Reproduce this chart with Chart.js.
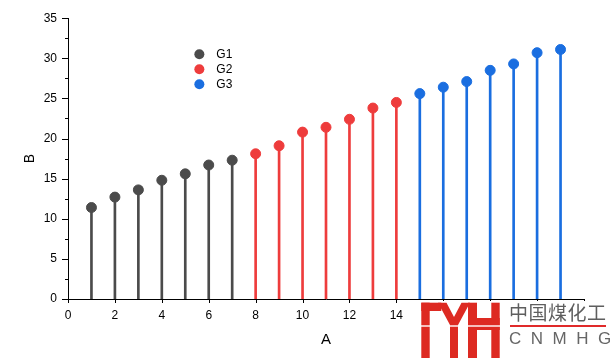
<!DOCTYPE html>
<html>
<head>
<meta charset="utf-8">
<script src="https://cdn.jsdelivr.net/npm/chart.js@4/dist/chart.umd.min.js"></script>
<style>
html, body { margin: 0; padding: 0; background: #fff; }
#wrap { position: relative; width: 610px; height: 358px; }
#logo { position: absolute; left: 420px; top: 301px; width: 190px; height: 57px; background: #fff; }
#logo .cn { position: absolute; left: 89px; top: 0px; font-family: "Noto Sans CJK SC", sans-serif; font-size: 19px; line-height: 22px; color: #5e5e5e; letter-spacing: 0.5px; white-space: nowrap; }
#logo .bar { position: absolute; left: 90px; top: 24px; width: 96px; height: 2px; background: #e02a2a; }
#logo .en { position: absolute; left: 89px; top: 28px; font-family: "Liberation Sans", Arial, sans-serif; font-size: 17px; line-height: 20px; color: #666; letter-spacing: 9.5px; white-space: nowrap; }
#logo svg { position: absolute; left: -2px; top: -5px; }
</style>
</head>
<body>
<div id="wrap">
<canvas id="myChart" width="610" height="358"></canvas>
<div id="logo">
<svg width="90" height="62">
<g fill="#dd2a22">
<rect x="3.3" y="6.7" width="8.4" height="56"/>
<rect x="3.3" y="6.7" width="20" height="8.3"/>
<polygon points="20,6.7 28.5,6.7 36,21 43.5,6.7 52,6.7 40,29 40,62 32,62 32,29"/>
<rect x="50" y="6.7" width="9" height="56"/>
<rect x="73.3" y="6.7" width="8.4" height="56"/>
<rect x="50" y="22" width="31.7" height="12"/>
</g>
<rect fill="#fff" x="0" y="29.3" width="90" height="1.4"/>
</svg>
<div class="cn">中国煤化工</div>
<div class="bar"></div>
<div class="en">CNMHG</div>
</div>
</div>
<script>
var g1X = [1, 2, 3, 4, 5, 6, 7];
var g1Y = [11.4, 12.7, 13.6, 14.8, 15.6, 16.7, 17.3];
var g2X = [8, 9, 10, 11, 12, 13, 14];
var g2Y = [18.1, 19.1, 20.8, 21.4, 22.4, 23.8, 24.5];
var g3X = [15, 16, 17, 18, 19, 20, 21];
var g3Y = [25.6, 26.4, 27.1, 28.5, 29.3, 30.7, 31.1];
var groupNames = ["G1", "G2", "G3"];
var groupColors = ["#4b4b4b", "#ee3c3c", "#1a6ee0"];

function pts(xs, ys) {
    return xs.map(function (x, i) { return { x: x, y: ys[i] }; });
}
var groups = [pts(g1X, g1Y), pts(g2X, g2Y), pts(g3X, g3Y)];

var datasets = [];
groups.forEach(function (g, i) {
    datasets.push({
        type: "bar",
        label: groupNames[i] + " stem",
        data: g,
        backgroundColor: groupColors[i],
        barThickness: 2,
        grouped: false,
        order: 2
    });
});
groups.forEach(function (g, i) {
    datasets.push({
        type: "scatter",
        label: groupNames[i],
        data: g,
        backgroundColor: groupColors[i],
        borderColor: groupColors[i],
        pointRadius: 5,
        pointHoverRadius: 5,
        order: 1
    });
});

// tick marks and legend drawn through the scales
var extras = {
    id: "extras",
    afterDraw: function (chart) {
        var c = chart.ctx;
        var xs = chart.scales.x, ys = chart.scales.y;
        c.save();
        c.strokeStyle = "#000";
        c.lineWidth = 1;
        for (var v = 0; v <= 35; v += 2.5) {
            var py = Math.round(ys.getPixelForValue(v)) + 0.5;
            var len = (v % 5 === 0) ? 6 : 3;
            c.beginPath();
            c.moveTo(xs.left - len, py);
            c.lineTo(xs.left, py);
            c.stroke();
        }
        for (var u = 0; u <= 22; u += 2) {
            var px = Math.round(xs.getPixelForValue(u)) + 0.5;
            c.beginPath();
            c.moveTo(px, ys.bottom);
            c.lineTo(px, ys.bottom + 4);
            c.stroke();
        }
        // legend
        var lx = xs.getPixelForValue(5.6);
        var ly = ys.getPixelForValue(30.5);
        c.font = "12px 'Liberation Sans', Arial, sans-serif";
        c.textBaseline = "middle";
        c.textAlign = "left";
        chart.data.datasets.forEach(function (ds) {
            if (ds.type !== "scatter") return;
            c.fillStyle = ds.backgroundColor;
            c.beginPath();
            c.arc(lx, ly, 5, 0, Math.PI * 2);
            c.fill();
            c.fillStyle = "#000";
            c.fillText(ds.label, lx + 17, ly + 0.5);
            ly += 15;
        });
        c.restore();
    }
};

var ctx = document.getElementById("myChart").getContext("2d");
var chart = new Chart(ctx, {
    type: "bar",
    data: { datasets: datasets },
    options: {
        responsive: false,
        animation: false,
        layout: { padding: { top: 16, right: 26, left: 0, bottom: 0 } },
        plugins: { legend: { display: false }, tooltip: { enabled: false } },
        scales: {
            x: {
                type: "linear",
                min: 0,
                max: 22,
                offset: false,
                afterFit: function (s) { s.height = 59; },
                grid: { display: false, drawTicks: false },
                border: { display: true, color: "#000", width: 1 },
                ticks: {
                    stepSize: 2,
                    padding: 9,
                    color: "#000",
                    maxRotation: 0,
                    font: { family: "'Liberation Sans', Arial, sans-serif", size: 12 }
                },
                title: {
                    display: true,
                    text: "A",
                    color: "#000",
                    padding: { top: 0, bottom: 9 },
                    font: { family: "'Liberation Sans', Arial, sans-serif", size: 15 }
                }
            },
            y: {
                type: "linear",
                min: 0,
                max: 35,
                afterFit: function (s) { s.width = 68; },
                grid: { display: false, drawTicks: false },
                border: { display: true, color: "#000", width: 1 },
                ticks: {
                    stepSize: 5,
                    padding: 11,
                    color: "#000",
                    font: { family: "'Liberation Sans', Arial, sans-serif", size: 12 }
                },
                title: {
                    display: true,
                    text: "B",
                    color: "#000",
                    padding: { top: 22, bottom: 0 },
                    font: { family: "'Liberation Sans', Arial, sans-serif", size: 14 }
                }
            }
        }
    },
    plugins: [extras]
});
</script>
</body>
</html>
